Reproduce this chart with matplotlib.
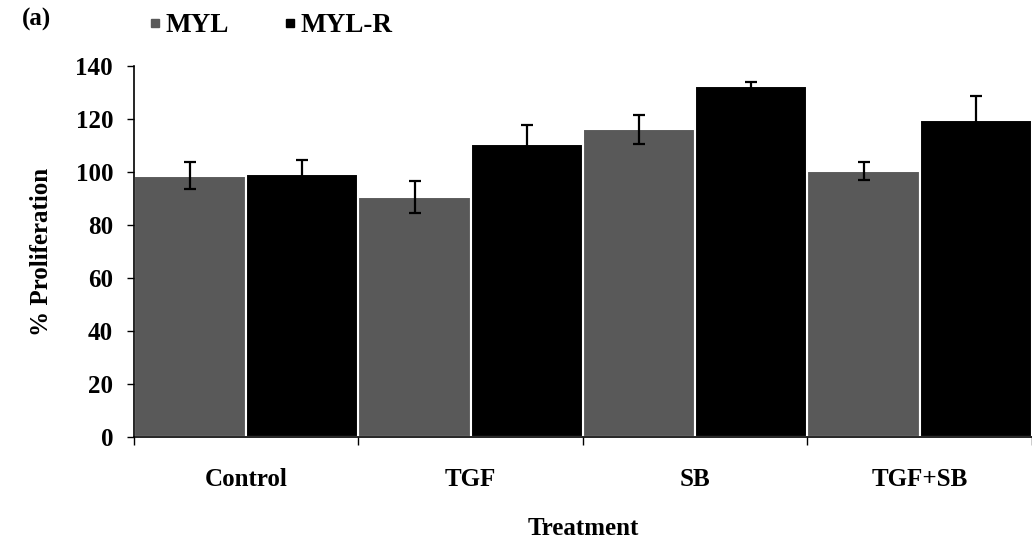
import numpy as np
import matplotlib
matplotlib.use('Agg')
import matplotlib.pyplot as plt
from matplotlib.lines import Line2D

plt.rcParams['font.family'] = 'Liberation Serif'
plt.rcParams['font.weight'] = 'bold'

treatments = ['Control', 'TGF', 'SB', 'TGF+SB']
myl = [98.6, 90.6, 116.2, 100.3]
myl_err = [5.0, 6.0, 5.5, 3.5]
myl_r = [99.2, 110.7, 132.5, 119.8]
myl_r_err = [5.5, 7.0, 1.5, 9.0]

gray = '#595959'
black = '#000000'
fs = 18

fig = plt.figure(figsize=(10.32, 5.46), dpi=100)
ax = fig.add_axes([0.1298, 0.1996, 0.8702, 0.6795])

x = np.arange(len(treatments))
w = 0.5
ekw = dict(ecolor='black', elinewidth=1.6, capsize=4.5, capthick=1.6)
ax.bar(x - w/2, myl, w, color=gray, edgecolor='white', linewidth=1.5,
       yerr=myl_err, error_kw=ekw)
ax.bar(x + w/2, myl_r, w, color=black, edgecolor='white', linewidth=1.5,
       yerr=myl_r_err, error_kw=ekw)

ax.set_xlim(-0.5, len(treatments) - 0.5)
ax.set_ylim(0, 140)
ax.set_yticks(np.arange(0, 141, 20))
ax.set_xticks(np.arange(len(treatments) + 1) - 0.5)
ax.set_xticklabels([])
ax.set_xticks(x, minor=True)
ax.set_xticklabels(treatments, minor=True, fontsize=fs, fontweight='bold')
ax.tick_params(axis='x', which='minor', length=0, pad=22)
ax.tick_params(axis='x', which='major', length=6, width=1, direction='out')
ax.tick_params(axis='y', length=5, width=1, labelsize=fs, pad=10)
for lab in ax.get_yticklabels():
    lab.set_fontweight('bold')

for s in ['top', 'right']:
    ax.spines[s].set_visible(False)
ax.spines['left'].set_linewidth(1.2)
ax.spines['bottom'].set_linewidth(1.2)

ax.set_ylabel('% Proliferation', fontsize=fs, fontweight='bold', labelpad=16)
ax.set_xlabel('Treatment', fontsize=fs, fontweight='bold', labelpad=19)

handles = [Line2D([], [], marker='s', color=gray, linestyle='', markersize=6),
           Line2D([], [], marker='s', color=black, linestyle='', markersize=6)]
fig.legend(handles, ['MYL', 'MYL-R'], loc='upper left', bbox_to_anchor=(0.117, 1.02),
           ncol=2, frameon=False, handletextpad=0.05, handlelength=0.7, columnspacing=1.9,
           prop={'family': 'Liberation Serif', 'weight': 'bold', 'size': 19.5})

fig.text(0.021, 0.965, '(a)', fontsize=fs, fontweight='bold', va='center', ha='left')

fig.savefig('out.png', dpi=100)
